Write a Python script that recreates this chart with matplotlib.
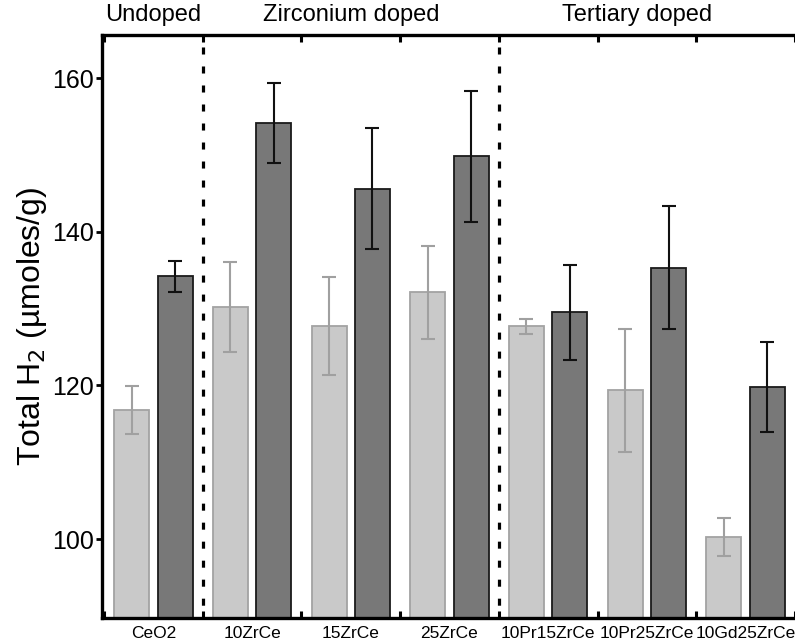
import numpy as np
import matplotlib
matplotlib.use('Agg')
import matplotlib.pyplot as plt

plt.rcParams['font.family'] = ['Liberation Sans', 'DejaVu Sans']

# samples and their H2 totals (light = first run, dark = second run)
samples = ['CeO2', '10ZrCe', '15ZrCe', '25ZrCe', '10Pr15ZrCe', '10Pr25ZrCe', '10Gd25ZrCe']
light_vals = [116.8, 130.2, 127.7, 132.1, 127.7, 119.4, 100.3]
light_err = [3.1, 5.8, 6.4, 6.1, 1.0, 8.0, 2.5]
dark_vals = [134.2, 154.1, 145.6, 149.8, 129.5, 135.3, 119.8]
dark_err = [2.0, 5.2, 7.9, 8.5, 6.2, 8.0, 5.8]

# group headers: (label, x centre in data units)
group_names = ['Undoped', 'Zirconium doped', 'Tertiary doped']
group_centres = [0.5, 2.5, 5.4]
group_splits = [1, 4]


def main():
    fig = plt.figure(figsize=(7.95, 6.44), dpi=100)
    ax = fig.add_axes([0.1283, 0.0411, 0.8717, 0.9046])

    x = np.arange(len(samples)) + 0.5
    w = 0.355
    off = 0.22

    ax.bar(x - off, light_vals, w, color='#c9c9c9', edgecolor='#a3a3a3', linewidth=1.3,
           yerr=light_err, error_kw=dict(ecolor='#a0a0a0', elinewidth=1.5, capsize=4.7, capthick=1.5))
    ax.bar(x + off, dark_vals, w, color='#787878', edgecolor='#1a1a1a', linewidth=1.3,
           yerr=dark_err, error_kw=dict(ecolor='#111111', elinewidth=1.5, capsize=4.7, capthick=1.5))

    # dashed separators, drawn top-down so the pattern starts with a gap under the top spine
    for s in group_splits:
        ax.plot([s, s], [1, 0], transform=ax.get_xaxis_transform(), color='black',
                linewidth=2.3, linestyle=(2.2, (2.2, 3.75)), solid_capstyle='butt')

    ax.set_xlim(-0.02, 7.0)
    ax.set_ylim(89.8, 165.6)

    ax.set_yticks([100, 120, 140, 160])
    ax.tick_params(axis='y', which='major', direction='out', length=4, width=2, labelsize=18, pad=2)
    ax.tick_params(axis='y', right=True, labelright=False)
    for t in ax.yaxis.get_major_ticks():
        t.tick2line.set_marker(matplotlib.lines.TICKRIGHT)
        t.tick2line.set_markersize(3)
        t.tick2line.set_markeredgewidth(2)

    # group boundary ticks top and bottom, sample names at the centres
    ax.set_xticks(np.arange(0, 8))
    ax.set_xticklabels([])
    ax.tick_params(axis='x', which='major', direction='in', length=5, width=2.2, top=True)
    ax.set_xticks(x, minor=True)
    ax.set_xticklabels(samples, minor=True, fontsize=12.5)
    ax.tick_params(axis='x', which='minor', length=0, pad=6)

    ax.spines['right'].set_visible(False)
    for side in ['left', 'top', 'bottom']:
        ax.spines[side].set_linewidth(2.4)

    ax.set_ylabel('Total H$_2$ (µmoles/g)', fontsize=23, labelpad=2)

    for name, cx in zip(group_names, group_centres):
        ax.text(cx, 1.015, name, transform=ax.get_xaxis_transform(), ha='center', va='bottom', fontsize=17)

    fig.savefig('out.png', dpi=100)


if __name__ == '__main__':
    main()
